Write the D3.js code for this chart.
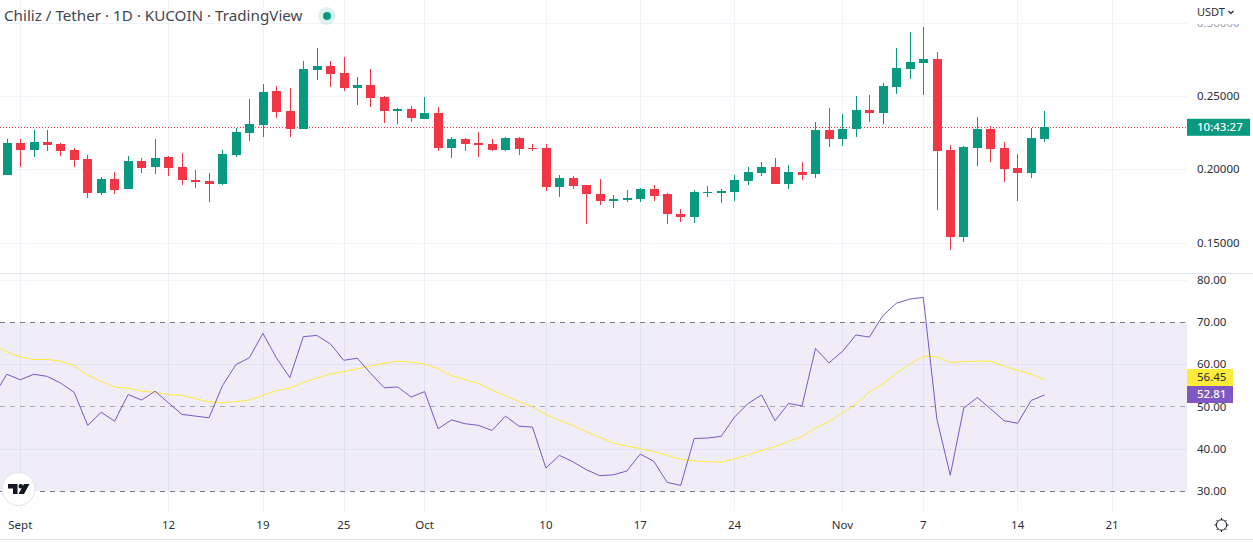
<!DOCTYPE html>
<html><head><meta charset="utf-8">
<script src="https://cdn.jsdelivr.net/npm/d3@7/dist/d3.min.js"></script>
<style>html,body{margin:0;padding:0;background:#fff;overflow:hidden}svg{display:block}
text{font-family:"Noto Sans","Open Sans",sans-serif;fill:#2a2e39}</style></head><body>
<svg id="c" width="1253" height="542"></svg>
<script>
// Candles: day offset from 1 Sept (-1 = 31 Aug) to 16 Nov
const opens=[.1963,.2182,.2134,.2188,.2175,.2134,.2072,.1841,.1936,.1868,.2059,.2018,.2086,.2018,.1929,.1922,.1902,.2100,.2250,.2304,.2536,.2400,.2277,.2680,.2707,.2659,.2557,.2577,.2495,.2400,.2413,.2345,.2386,.2153,.2208,.2187,.2174,.2139,.2215,.2153,.2153,.1886,.1948,.1900,.1838,.1790,.1797,.1804,.1872,.1834,.1697,.1677,.1841,.1841,.1847,.1922,.1977,.2018,.1902,.1984,.1970,.2270,.2209,.2277,.2407,.2386,.2564,.2686,.2727,.2755,.2134,.1540,.2148,.2277,.2148,.2011,.1977,.2209];
const closes=[.2182,.2134,.2188,.2168,.2127,.2066,.1841,.1936,.1861,.2059,.2011,.2079,.2011,.1929,.1916,.1902,.2107,.2257,.2311,.2530,.2393,.2277,.2686,.2707,.2652,.2557,.2577,.2489,.2400,.2413,.2352,.2386,.2153,.2208,.2180,.2167,.2139,.2215,.2146,.2146,.1886,.1948,.1893,.1838,.1790,.1804,.1811,.1872,.1824,.1697,.1677,.1847,.1847,.1854,.1929,.1984,.2018,.1902,.1984,.1963,.2270,.2209,.2277,.2407,.2386,.2570,.2693,.2734,.2755,.2127,.1540,.2154,.2277,.2141,.2004,.1977,.2216,.2291];
const highs=[.2209,.2209,.2270,.2270,.2182,.2148,.2100,.1950,.1984,.2093,.2079,.2209,.2093,.2113,.1997,.1977,.2134,.2284,.2482,.2584,.2570,.2557,.2741,.2830,.2741,.2768,.2632,.2686,.2502,.2420,.2434,.2495,.2427,.2228,.2221,.2256,.2208,.2228,.2228,.2180,.2180,.1968,.1961,.1900,.1941,.1831,.1865,.1879,.1900,.1841,.1731,.1861,.1888,.1868,.1963,.2018,.2052,.2079,.2032,.2052,.2325,.2420,.2379,.2502,.2509,.2591,.2830,.2939,.2973,.2802,.2168,.2161,.2359,.2298,.2188,.2107,.2284,.2400];
const lows=[.1963,.2018,.2086,.2127,.2093,.2018,.1806,.1827,.1834,.1868,.1977,.1970,.1957,.1895,.1875,.1779,.1895,.2086,.2195,.2223,.2352,.2223,.2277,.2611,.2564,.2536,.2441,.2427,.2318,.2311,.2324,.2345,.2126,.2084,.2132,.2091,.2126,.2126,.2105,.2126,.1858,.1817,.1872,.1632,.1763,.1742,.1783,.1783,.1790,.1629,.1643,.1636,.1813,.1772,.1786,.1895,.1957,.1902,.1868,.1929,.1943,.2154,.2161,.2223,.2325,.2311,.2516,.2618,.2509,.1725,.1452,.1506,.2025,.2052,.1916,.1786,.1943,.2188];
// RSI and its moving average: first value is day offset -2
const rsi=[52.4,57.7,56.4,57.7,57.2,55.6,53.4,45.6,48.7,46.6,52.9,51.6,53.7,50.9,48.2,47.8,47.4,55.0,60.0,61.6,67.4,61.6,56.9,66.6,66.9,64.9,61.0,61.5,57.9,54.5,54.7,52.3,53.6,44.8,46.9,46.0,45.6,44.4,47.8,45.4,45.2,35.5,38.5,37.0,35.1,33.7,33.9,34.8,38.8,37.1,32.1,31.4,42.5,42.6,43.0,47.6,50.8,52.8,46.7,50.8,50.2,63.8,60.4,63.1,67.0,66.5,71.6,74.5,75.5,75.9,47.2,33.8,49.7,52.2,49.5,46.7,46.1,51.5,52.81];
const rsiMa=[64.6,63.0,61.8,61.2,61.2,60.8,59.7,57.5,56.0,54.7,54.4,53.7,53.4,52.9,52.7,51.9,51.2,51.0,51.2,51.6,52.7,53.8,54.4,55.8,56.8,57.8,58.3,59.0,59.7,60.3,60.8,60.6,60.1,59.0,57.4,56.4,55.5,54.0,52.6,51.3,50.0,48.2,46.8,45.6,44.1,42.8,41.4,40.7,40.1,39.4,38.5,37.6,37.2,37.0,36.9,37.7,38.6,39.7,40.6,41.8,43.0,45.0,46.5,48.6,50.7,53.4,55.4,57.9,60.1,62.0,61.8,60.5,60.7,60.8,60.8,59.6,58.6,57.7,56.45];
const timeTicks=["Sept","12","19","25","Oct","10","17","24","Nov","7","14","21"];
const timeDays=[0,11,18,24,30,39,46,53,61,67,74,81];
const priceTicks=[0.30,0.25,0.20,0.15];
const rsiGrid=[80,60,40];
const rsiBands=[70,50,30];
const rsiLabels=[80,70,60,50,40,30];
const title="Chiliz / Tether · 1D · KUCOIN · TradingView";
const timer="10:43:27", lastPrice=closes[closes.length-1];

const UP="#089981",DOWN="#f23645",GRID="#f0f3fa",SEP="#e0e3eb",AXIS=1187;
const svg=d3.select("#c");
const x=d3.scaleLinear().domain([0,81]).range([20.3,1112]);
const y=d3.scaleLinear().domain([0.15,0.30]).range([243.3,23.3]);
const yr=d3.scaleLinear().domain([30,70]).range([491.3,322.3]);
const px=v=>Math.round(v-0.5)+0.5;
const cx=d=>Math.floor(x(d)+0.25);

// grid
const g=svg.append("g");
g.selectAll(".v").data(timeDays).join("line").attr("x1",d=>cx(d)+.5).attr("x2",d=>cx(d)+.5)
 .attr("y1",0).attr("y2",511).attr("stroke",GRID).attr("stroke-width",1);
g.selectAll(".hp").data(priceTicks).join("line").attr("x1",0).attr("x2",AXIS).attr("y1",d=>px(y(d))).attr("y2",d=>px(y(d))).attr("stroke",GRID);
g.selectAll(".hr").data(rsiGrid).join("line").attr("x1",0).attr("x2",AXIS).attr("y1",d=>px(yr(d))).attr("y2",d=>px(yr(d))).attr("stroke",GRID);

// RSI band
svg.append("rect").attr("x",0).attr("width",AXIS).attr("y",yr(70)).attr("height",yr(30)-yr(70)).attr("fill","#7e57c2").attr("fill-opacity",.115);
svg.selectAll(".b").data(rsiBands).join("line").attr("x1",0).attr("x2",AXIS).attr("y1",d=>px(yr(d))).attr("y2",d=>px(yr(d)))
 .attr("stroke","#787b86").attr("stroke-opacity",d=>d===50?.6:1).attr("stroke-dasharray","5 5");

// separators
svg.append("line").attr("x1",0).attr("x2",1253).attr("y1",273.5).attr("y2",273.5).attr("stroke",SEP);
svg.append("line").attr("x1",0).attr("x2",1253).attr("y1",539.5).attr("y2",539.5).attr("stroke",SEP);

// last price line
svg.append("line").attr("x1",0).attr("x2",AXIS).attr("y1",px(y(lastPrice))).attr("y2",px(y(lastPrice)))
 .attr("stroke",DOWN).attr("stroke-dasharray","1 2");

// candles
const days=d3.range(-1,77);
const cg=svg.append("g").selectAll("g").data(days).join("g").attr("shape-rendering","crispEdges")
 .attr("fill",(d,i)=>closes[i]>=opens[i]?UP:DOWN);
cg.append("rect").attr("x",d=>cx(d)).attr("width",1)
 .attr("y",(d,i)=>Math.round(y(highs[i]))).attr("height",(d,i)=>Math.round(y(lows[i]))-Math.round(y(highs[i])));
cg.append("rect").attr("x",d=>cx(d)-4).attr("width",9)
 .attr("y",(d,i)=>Math.round(y(Math.max(opens[i],closes[i]))))
 .attr("height",(d,i)=>Math.max(1,Math.round(y(Math.min(opens[i],closes[i])))-Math.round(y(Math.max(opens[i],closes[i])))));

// RSI lines
const ln=d3.line().x((d,i)=>x(i-2)).y(d=>yr(d));
svg.append("path").attr("d",ln(rsiMa)).attr("fill","none").attr("stroke","#ffeb3b").attr("stroke-width",1);
svg.append("path").attr("d",ln(rsi)).attr("fill","none").attr("stroke","#7e57c2").attr("stroke-width",1);

// axes text
const lab=(s,xx,yy,o={})=>svg.append("text").attr("x",xx).attr("y",yy).attr("dy","0.35em").text(s)
  .attr("font-size",o.size||11.5).attr("text-anchor",o.anchor||"start").style("fill",o.fill||"#2a2e39").attr("font-weight",o.weight||400);
svg.append("clipPath").attr("id","top").append("rect").attr("x",AXIS).attr("y",24).attr("width",66).attr("height",20);
priceTicks.forEach(p=>{const t=lab(p.toFixed(5),1197,y(p)-.5);if(p===.30){t.attr("clip-path","url(#top)").attr("opacity",.45);}});
rsiLabels.forEach(r=>lab(r.toFixed(2),1197,yr(r)-.3));
timeTicks.forEach((t,i)=>lab(t,x(timeDays[i]),525,{anchor:"middle"}));

// price labels
svg.append("rect").attr("x",AXIS).attr("width",63).attr("y",y(lastPrice)-8.5).attr("height",17).attr("fill",UP);
lab(timer,1197,y(lastPrice)-.2,{fill:"#fff",weight:500});
const maLast=rsiMa[rsiMa.length-1],rLast=rsi[rsi.length-1];
svg.append("rect").attr("x",AXIS).attr("width",46).attr("y",369).attr("height",17).attr("fill","#ffeb3b");
lab(maLast.toFixed(2),1197,377.2);
svg.append("rect").attr("x",AXIS).attr("width",46).attr("y",386).attr("height",17).attr("fill","#7e57c2");
lab(rLast.toFixed(2),1197,394.2,{fill:"#fff",weight:500});

// header
lab(title,4,16,{size:15.2,fill:"#434651"});
svg.append("circle").attr("cx",327).attr("cy",16).attr("r",9).attr("fill",UP).attr("fill-opacity",.13);
svg.append("circle").attr("cx",327).attr("cy",16).attr("r",4).attr("fill",UP);
lab("USDT",1197,12.3,{size:11});
svg.append("path").attr("d","M1228.5 11l2.5 2.5 2.5-2.5").attr("fill","none").attr("stroke","#131722").attr("stroke-width",1.1);

// logo
svg.append("circle").attr("cx",18.5).attr("cy",489).attr("r",16.5).attr("fill","#fff").attr("stroke",SEP).attr("stroke-width",1);
svg.append("path").attr("d","M8 484h9.5v10h-4.5v-5.5h-5zM24 484h5.5l-5.5 10h-5.5z").attr("fill","#131722");
svg.append("circle").attr("cx",20.8).attr("cy",486.2).attr("r",2.2).attr("fill","#131722");

// gear
const gear=svg.append("g").attr("transform","translate(1221.5,525)").attr("fill","none").attr("stroke","#131722");
gear.append("circle").attr("r",5.2).attr("stroke-width",1);
d3.range(8).forEach(i=>{const a=i*Math.PI/4;gear.append("line").attr("x1",5.2*Math.cos(a)).attr("y1",5.2*Math.sin(a)).attr("x2",7*Math.cos(a)).attr("y2",7*Math.sin(a)).attr("stroke-width",1);});
</script></body></html>
